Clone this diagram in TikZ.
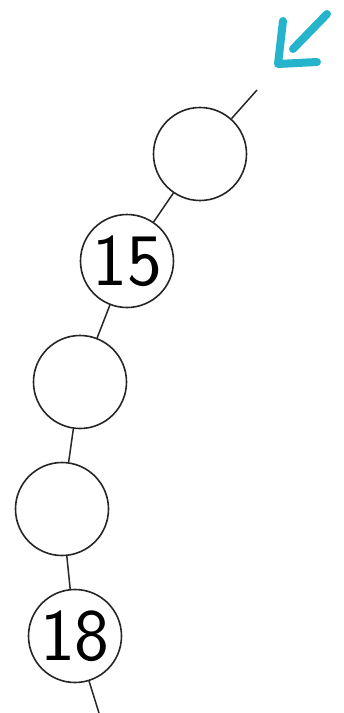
\documentclass[tikz,border=0pt]{standalone}
\usepackage{fontspec}
\begin{document}
\begin{tikzpicture}[x=1pt,y=-1pt,
  bead/.style={circle,draw=black!85,line width=1.6pt,minimum size=93pt,inner sep=0pt,
    font=\sffamily\fontsize{74}{74}\selectfont},
  link/.style={draw=black!85,line width=1.5pt},
  marker/.style={draw={rgb,255:red,38;green,180;blue,204},line width=8pt,line cap=round,line join=round}]
\useasboundingbox[fill=white] (0,0) rectangle (344,713);
\node[bead] (a) at (200,154) {};
\node[bead] (b) at (127,261) {15};
\node[bead] (c) at (80,382) {};
\node[bead] (d) at (62,509) {};
\node[bead] (e) at (75,636) {18};
\coordinate (top) at (257,90);
\coordinate (bot) at (99,713);
\draw[link] (top) -- (a);
\draw[link] (a) -- (b);
\draw[link] (b) -- (c);
\draw[link] (c) -- (d);
\draw[link] (d) -- (e);
\draw[link] (e) -- (bot);
\coordinate (s1) at (327,14);
\coordinate (s2) at (293,49);
\coordinate (h1) at (283,21);
\coordinate (h2) at (278,64);
\coordinate (h3) at (317,62);
\draw[marker] (s1) -- (s2);
\draw[marker] (h1) -- (h2) -- (h3);
\end{tikzpicture}
\end{document}
